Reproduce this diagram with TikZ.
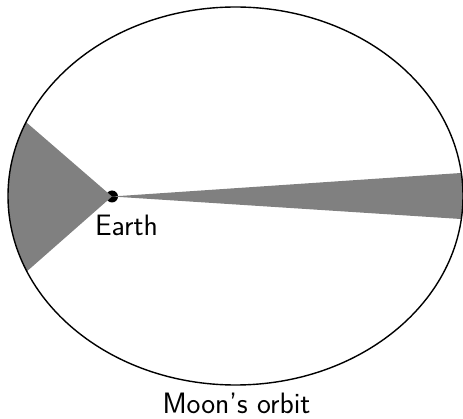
\documentclass[tikz,border=0pt]{standalone}
\usepackage{fontspec}
\usetikzlibrary{calc}
\begin{document}
\begin{tikzpicture}[x=1pt,y=1pt,
  orbit/.style={draw=black,line width=1.4pt},
  shadow/.style={fill=gray},
  lbl/.style={font=\fontsize{29.5}{34}\selectfont\sffamily,inner sep=0pt,anchor=base}]
\useasboundingbox (0,0) rectangle (463,418);
\coordinate (C) at (235.5,222);
\node[circle,fill=black,minimum size=12pt,inner sep=0pt] (earth) at (112,221.5) {};
% left shadow wedge
\fill[shadow] (earth.center) -- ($(C)+({227.5*cos(157)},{189*sin(157)})$)
  arc[start angle=157,end angle=203.5,x radius=227.5,y radius=189] -- cycle;
% right narrow wedge
\fill[shadow] (earth.center) -- ($(C)+({227.5*cos(-7)},{189*sin(-7)})$)
  arc[start angle=-7,end angle=7,x radius=227.5,y radius=189] -- cycle;
\draw[orbit] (C) ellipse[x radius=227.5,y radius=189];
\node[lbl] (earthlbl) at (126.5,182) {Earth};
\node[lbl] (orbitlbl) at (236.5,4.5) {Moon's orbit};
\end{tikzpicture}
\end{document}
